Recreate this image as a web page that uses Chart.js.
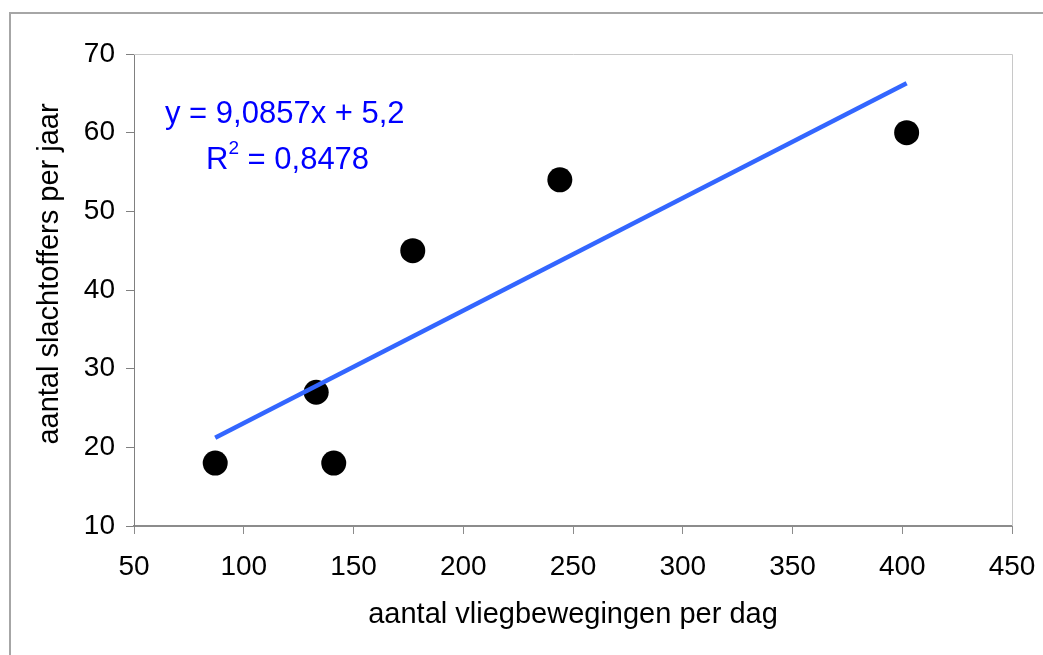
<!DOCTYPE html>
<html>
<head>
<meta charset="utf-8">
<script src="https://cdn.jsdelivr.net/npm/chart.js@4/dist/chart.umd.min.js"></script>
<style>
  html, body { margin: 0; padding: 0; background: #fff; }
  #wrap { width: 1043px; height: 655px; position: relative; }
</style>
</head>
<body>
<div id="wrap"><canvas id="c" width="1043" height="655"></canvas></div>
<script>
// Vliegbewegingen per dag tegen aantal slachtoffers per jaar
const vliegbewegingen = [87, 133, 141, 177, 244, 402];
const slachtoffers    = [18, 27, 18, 45, 54, 60];

const xTicks = [50, 100, 150, 200, 250, 300, 350, 400, 450];
const yTicks = [10, 20, 30, 40, 50, 60, 70];

const xTitel = 'aantal vliegbewegingen per dag';
const yTitel = 'aantal slachtoffers per jaar';
const vergelijking = 'y = 9,0857x + 5,2';
const rKwadraat = '0,8478';

// Kleinste-kwadratenlijn door de meetpunten
function trendlijn(xs, ys) {
  const n = xs.length;
  const mx = xs.reduce((a, b) => a + b, 0) / n;
  const my = ys.reduce((a, b) => a + b, 0) / n;
  let sxy = 0, sxx = 0;
  for (let i = 0; i < n; i++) {
    sxy += (xs[i] - mx) * (ys[i] - my);
    sxx += (xs[i] - mx) * (xs[i] - mx);
  }
  const b = sxy / sxx, a = my - b * mx;
  const x0 = Math.min(...xs), x1 = Math.max(...xs);
  return [{ x: x0, y: a + b * x0 }, { x: x1, y: a + b * x1 }];
}

const punten = vliegbewegingen.map((x, i) => ({ x, y: slachtoffers[i] }));
const FONT = '"Liberation Sans", Arial, sans-serif';

// Buitenrand en rand van het plotgebied (boven en rechts)
const randen = {
  id: 'randen',
  beforeDraw(chart) {
    const ctx = chart.ctx;
    ctx.save();
    ctx.strokeStyle = '#a6a6a6';
    ctx.lineWidth = 2;
    ctx.strokeRect(10, 13, 1100, 700);
    ctx.restore();
  },
  beforeDatasetsDraw(chart) {
    const { ctx, chartArea: ca } = chart;
    ctx.save();
    ctx.strokeStyle = '#c8c8c8';
    ctx.lineWidth = 1;
    ctx.beginPath();
    ctx.moveTo(ca.left, ca.top + 0.5);
    ctx.lineTo(ca.right + 0.5, ca.top + 0.5);
    ctx.lineTo(ca.right + 0.5, ca.bottom);
    ctx.stroke();
    ctx.restore();
  }
};

// Titel van de verticale as, iets boven het midden van de as
const yAsTitel = {
  id: 'yAsTitel',
  afterDraw(chart) {
    const { ctx, chartArea: ca } = chart;
    ctx.save();
    ctx.fillStyle = '#000';
    ctx.font = '29px ' + FONT;
    ctx.textAlign = 'center';
    ctx.textBaseline = 'middle';
    ctx.translate(50, (ca.top + ca.bottom) / 2 - 16);
    ctx.rotate(-Math.PI / 2);
    ctx.fillText(yTitel, 0, 0);
    ctx.restore();
  }
};

// Vergelijking en R² van de trendlijn
const trendTekst = {
  id: 'trendTekst',
  afterDatasetsDraw(chart) {
    const { ctx, chartArea: ca } = chart;
    ctx.save();
    ctx.fillStyle = '#0000ff';
    ctx.font = '31px ' + FONT;
    ctx.textBaseline = 'alphabetic';
    ctx.textAlign = 'left';
    ctx.fillText(vergelijking, ca.left + 31, ca.top + 69);
    // R² met superscript
    const y2 = ca.top + 115;
    let x = ca.left + 72;
    ctx.fillText('R', x, y2);
    x += ctx.measureText('R').width;
    ctx.font = '19px ' + FONT;
    ctx.fillText('2', x, y2 - 15);
    x += ctx.measureText('2').width;
    ctx.font = '31px ' + FONT;
    ctx.fillText(' = ' + rKwadraat, x, y2);
    ctx.restore();
  }
};

new Chart(document.getElementById('c'), {
  type: 'scatter',
  data: {
    datasets: [
      {
        type: 'line',
        data: trendlijn(vliegbewegingen, slachtoffers),
        borderColor: '#3366ff',
        borderWidth: 4.5,
        pointRadius: 0,
        fill: false,
        tension: 0
      },
      {
        data: punten,
        backgroundColor: '#000',
        borderColor: '#000',
        borderWidth: 0,
        pointRadius: 12.5,
        pointHoverRadius: 12.5
      }
    ]
  },
  options: {
    responsive: false,
    animation: false,
    devicePixelRatio: 1,
    layout: { padding: { left: 0, top: 54, right: 31, bottom: 0 } },
    plugins: { legend: { display: false }, tooltip: { enabled: false } },
    scales: {
      x: {
        type: 'linear',
        min: 50, max: 450,
        afterBuildTicks(s) { s.ticks = xTicks.map(v => ({ value: v })); },
        afterFit(s) { s.height = 129; s.paddingLeft = 0; s.paddingRight = 0; },
        grid: { display: true, drawOnChartArea: false, drawTicks: true, tickLength: 8, color: '#8c8c8c', lineWidth: 1 },
        border: { display: true, color: '#8c8c8c', width: 2 },
        ticks: { color: '#000', font: { family: FONT, size: 28 }, padding: 16, maxRotation: 0 },
        title: { display: true, text: xTitel, color: '#000',
                 font: { family: FONT, size: 29 }, padding: { top: 0, bottom: 23 } }
      },
      y: {
        type: 'linear',
        min: 10, max: 70,
        afterBuildTicks(s) { s.ticks = yTicks.map(v => ({ value: v })); },
        afterFit(s) { s.width = 134; s.paddingTop = 0; s.paddingBottom = 0; },
        grid: { display: true, drawOnChartArea: false, drawTicks: true, tickLength: 8, color: '#808080', lineWidth: 1 },
        border: { display: true, color: '#808080', width: 1 },
        ticks: { color: '#000', font: { family: FONT, size: 28 }, padding: 11 },
        title: { display: false }
      }
    }
  },
  plugins: [randen, yAsTitel, trendTekst]
});
</script>
</body>
</html>
